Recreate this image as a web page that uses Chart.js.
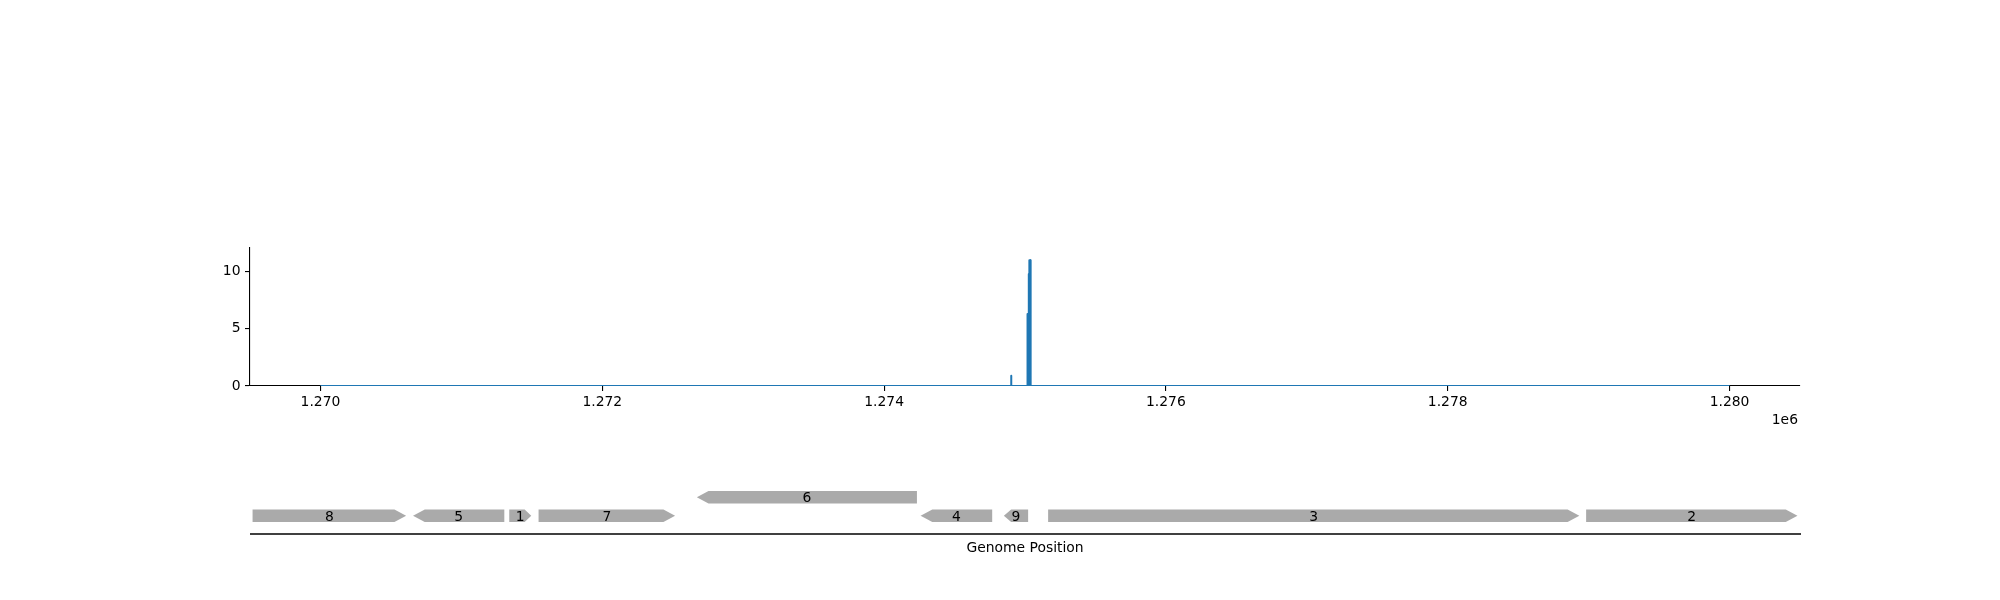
<!DOCTYPE html>
<html>
<head>
<meta charset="utf-8">
<script src="https://cdn.jsdelivr.net/npm/chart.js@4"></script>
<style>
	body { margin: 0; background: #fff; }
	#wrap { width: 2000px; height: 600px; position: relative; }
</style>
</head>
<body>
<div id="wrap"><canvas id="coverage-canvas"></canvas></div>
<script>
// coverage trace (genome position, depth)
const covPos = [1270000, 1274901, 1274902, 1274903, 1275017, 1275018, 1275026, 1275027, 1275030, 1275031, 1275039, 1275040, 1280000];
const covVal = [0, 0, 0.9, 0, 0, 6.3, 6.3, 9.8, 9.8, 11, 11, 0, 0];

// gene features
const geneLabels = ["8", "5", "1", "7", "6", "4", "9", "3", "2"];
const geneStart = [1269518, 1270657, 1271340, 1271548, 1272671, 1274259, 1274850, 1275164, 1278982];
const geneEnd = [1270608, 1271305, 1271496, 1272517, 1274233, 1274767, 1275022, 1278934, 1280482];
const geneStrand = [1, -1, 1, 1, -1, -1, -1, 1, 1];
const geneRow = [0, 0, 0, 0, 1, 0, 0, 0, 0];

// axis ticks
const xTicks = [1270000, 1272000, 1274000, 1276000, 1278000, 1280000];
const yTicks = [0, 5, 10];

const FONT = "'DejaVu Sans', sans-serif";

const geneTrack = {
	id: "geneTrack",
	afterDraw(chart) {
		const ctx = chart.ctx;
		const x = chart.scales.x;
		const rowCenter = [515.7, 497.2];
		const h = 12.6;

		ctx.save();
		for (let i = 0; i < geneLabels.length; i++) {
			let x0 = x.getPixelForValue(geneStart[i]);
			let x1 = x.getPixelForValue(geneEnd[i]);
			let cy = rowCenter[geneRow[i]];
			let top = cy - h / 2, bot = cy + h / 2;
			let head = Math.min(11.7, (x1 - x0) * 0.3);
			ctx.beginPath();
			if (geneStrand[i] > 0) {
				ctx.moveTo(x0, top);
				ctx.lineTo(x1 - head, top);
				ctx.lineTo(x1, cy);
				ctx.lineTo(x1 - head, bot);
				ctx.lineTo(x0, bot);
			} else {
				ctx.moveTo(x1, top);
				ctx.lineTo(x0 + head, top);
				ctx.lineTo(x0, cy);
				ctx.lineTo(x0 + head, bot);
				ctx.lineTo(x1, bot);
			}
			ctx.closePath();
			ctx.fillStyle = "#aaaaaa";
			ctx.fill();

			ctx.fillStyle = "#000";
			ctx.font = "13.9px " + FONT;
			ctx.textAlign = "center";
			ctx.textBaseline = "alphabetic";
			ctx.fillText(geneLabels[i], (x0 + x1) / 2, cy + 5);
		}

		// track baseline
		ctx.strokeStyle = "#000";
		ctx.lineWidth = 1.4;
		ctx.beginPath();
		ctx.moveTo(chart.chartArea.left, 534);
		ctx.lineTo(chart.chartArea.right + 1, 534);
		ctx.stroke();

		ctx.fillStyle = "#000";
		ctx.font = "13.9px " + FONT;
		ctx.textAlign = "center";
		ctx.textBaseline = "alphabetic";
		ctx.fillText("Genome Position", (chart.chartArea.left + chart.chartArea.right) / 2, 551.7);

		// offset text of the x axis
		ctx.textAlign = "right";
		ctx.fillText("1e6", chart.chartArea.right - 2, 424);
		ctx.restore();
	}
};

let graph = new Chart("coverage-canvas", {
	type: "line",
	data: {
		datasets: [{
			data: covPos.map((p, i) => ({ x: p, y: covVal[i] })),
			borderColor: "#1f77b4",
			backgroundColor: "#1f77b4",
			borderWidth: 2,
			borderJoinStyle: "round",
			pointRadius: 0,
			fill: "origin",
			tension: 0
		}]
	},
	options: {
		responsive: true,
		maintainAspectRatio: false,
		devicePixelRatio: 1,
		animation: false,
		layout: { padding: { top: 248, right: 200, bottom: 0, left: 0 } },
		plugins: {
			legend: { display: false },
			tooltip: { enabled: false }
		},
		scales: {
			x: {
				type: "linear",
				min: 1269500,
				max: 1280500,
				afterBuildTicks: (scale) => { scale.ticks = xTicks.map(v => ({ value: v })); },
				afterFit: (scale) => { scale.height = 214; },
				border: { display: true, color: "#000", width: 1.1 },
				grid: { drawOnChartArea: false, drawTicks: true, tickLength: 5, color: "#000", lineWidth: 1.1 },
				ticks: {
					color: "#000",
					font: { family: FONT, size: 13.9 },
					padding: 3,
					maxRotation: 0,
					autoSkip: false,
					includeBounds: false,
					callback: (v) => (v / 1e6).toFixed(3)
				}
			},
			y: {
				min: 0,
				max: 12.07,
				afterBuildTicks: (scale) => { scale.ticks = yTicks.map(v => ({ value: v })); },
				afterFit: (scale) => { scale.width = 250; },
				border: { display: true, color: "#000", width: 1.1 },
				grid: { drawOnChartArea: false, drawTicks: true, tickLength: 5, color: "#000", lineWidth: 1.1 },
				ticks: {
					color: "#000",
					font: { family: FONT, size: 13.9 },
					padding: 4.5,
					includeBounds: false
				}
			}
		}
	},
	plugins: [geneTrack]
});
</script>
</body>
</html>
